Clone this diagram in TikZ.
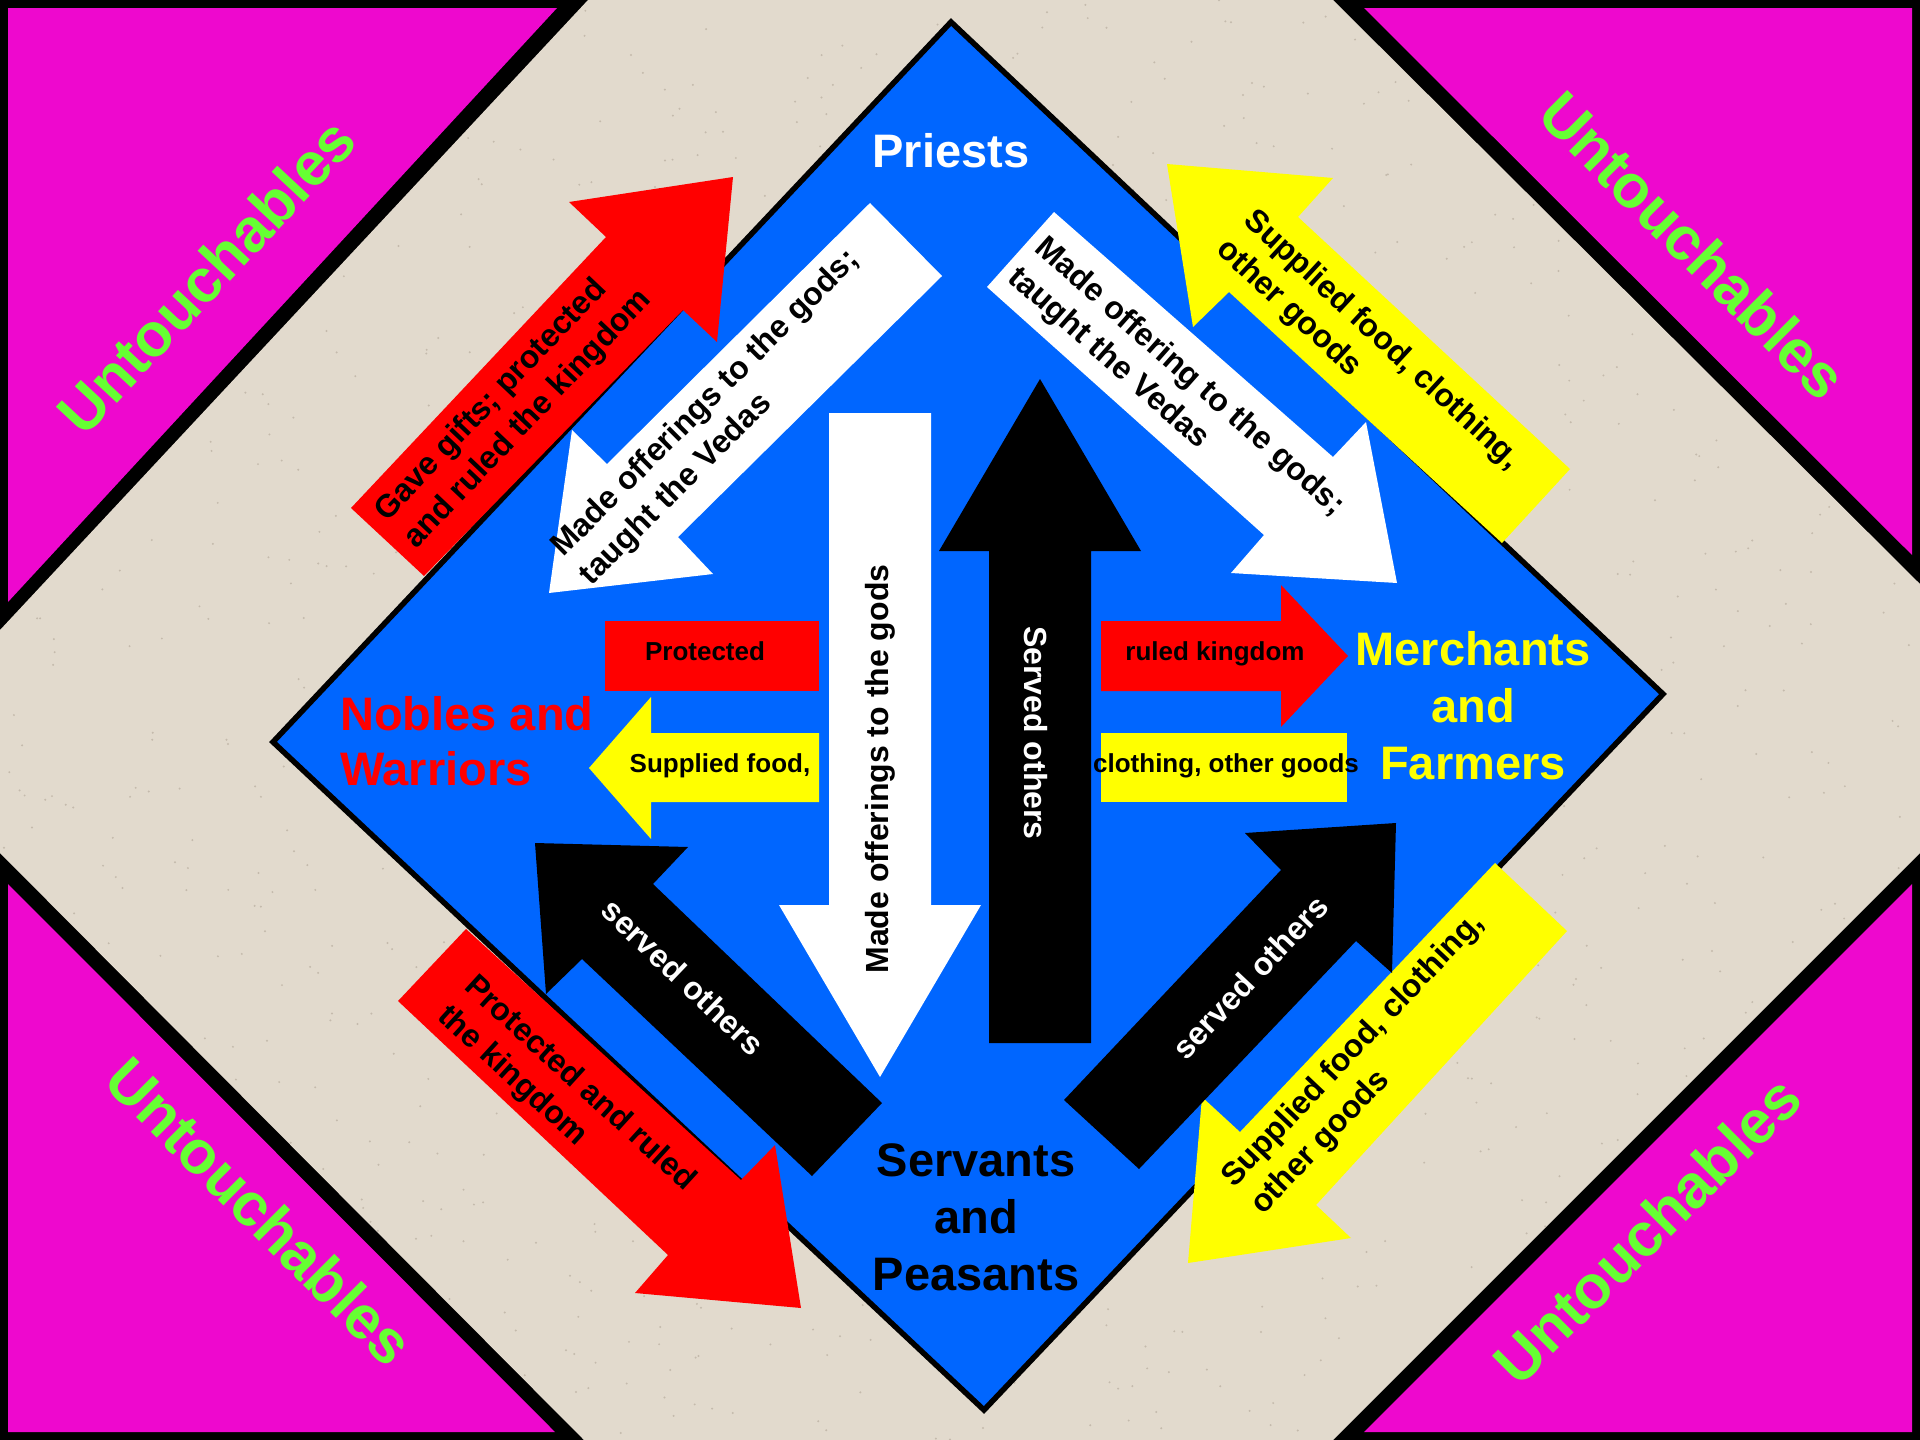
\documentclass[tikz,border=0pt]{standalone}
\usepackage{fontspec}
\setmainfont{Liberation Sans}
\definecolor{beige}{RGB}{226,218,205}
\definecolor{speck}{RGB}{196,186,172}
\definecolor{mag}{RGB}{238,8,206}
\definecolor{ugreen}{RGB}{102,255,51}
\definecolor{dblue}{RGB}{0,102,255}
\definecolor{rr}{RGB}{255,0,0}
\definecolor{yy}{RGB}{255,255,0}
\begin{document}
\begin{tikzpicture}[x=1pt,y=-1pt,
  lbl/.style={font=\bfseries\fontsize{32}{40}\selectfont, inner sep=0pt, align=left},
  vlbl/.style={font=\bfseries\fontsize{32}{40}\selectfont, inner sep=0pt},
  big/.style={font=\bfseries\fontsize{47}{57}\selectfont, inner sep=0pt, align=center},
  small/.style={font=\bfseries\fontsize{26}{30}\selectfont, inner sep=0pt},
  untouch/.style={font=\bfseries\fontsize{61}{70}\selectfont, text=ugreen, inner sep=0pt}]
\useasboundingbox (0,0) rectangle (1920,1440);
% background
\fill[black] (0,0) rectangle (1920,1440);
\fill[beige] (588,0) -- (1333,0) -- (1920,584) -- (1920,853) -- (1333,1440) -- (584,1440) -- (0,853) -- (0,630) -- cycle;
\begin{scope}
\clip (588,0) -- (1333,0) -- (1920,584) -- (1920,853) -- (1333,1440) -- (584,1440) -- (0,853) -- (0,630) -- cycle;
\pgfmathsetseed{7}
\foreach \i in {1,...,1400} {
  \pgfmathsetmacro\px{rnd*1920}
  \pgfmathsetmacro\py{rnd*1440}
  \fill[speck] (\px,\py) circle (1.1);
}
\end{scope}
% magenta corners
\fill[mag] (8,8) -- (557,8) -- (8,602) -- cycle;
\fill[mag] (1364,8) -- (1912,8) -- (1912,555) -- cycle;
\fill[mag] (8,884) -- (555,1432) -- (8,1432) -- cycle;
\fill[mag] (1364,1432) -- (1912,884) -- (1912,1432) -- cycle;
\node[untouch, rotate=47] (u1) at (206,276) {Untouchables};
\node[untouch, rotate=-45] (u2) at (1693,245) {Untouchables};
\node[untouch, rotate=-45] (u3) at (260,1211) {Untouchables};
\node[untouch, rotate=45] (u4) at (1647,1230) {Untouchables};
% blue diamond
\filldraw[fill=dblue, draw=black, line width=5.5pt, line join=miter] (951,22) -- (1663,694) -- (984,1410) -- (273,742) -- cycle;
% outer arrows
\fill[rr] (351,508) -- (606,237) -- (569,202) -- (733,177) -- (717,342) -- (683,310) -- (424,576) -- cycle;
\fill[yy] (1167,164) -- (1333,178) -- (1298,217) -- (1570,469) -- (1502,543) -- (1229,292) -- (1193,327) -- cycle;
\fill[rr] (466,929) -- (741,1180) -- (775,1145) -- (801,1308) -- (635,1293) -- (668,1255) -- (398,1001) -- cycle;
\fill[yy] (1495,863) -- (1567,931) -- (1316,1205) -- (1351,1238) -- (1188,1263) -- (1202,1097) -- (1240,1132) -- cycle;
% inner diagonal arrows
\fill[white] (870,203) -- (942,276) -- (678,537) -- (713,574) -- (549,593) -- (572,430) -- (607,464) -- cycle;
\fill[white] (1054,212) -- (1333,457) -- (1366,422) -- (1397,583) -- (1231,573) -- (1264,535) -- (987,287) -- cycle;
\fill[black] (535,843) -- (688,847) -- (653,884) -- (882,1103) -- (812,1176) -- (582,959) -- (546,994) -- cycle;
\fill[black] (1064,1100) -- (1281,870) -- (1245,833) -- (1396,823) -- (1392,973) -- (1356,941) -- (1139,1169) -- cycle;
% vertical arrows
\fill[white] (829,413) -- (931,413) -- (931,905) -- (981,905) -- (880,1077) -- (779,905) -- (829,905) -- cycle;
\fill[black] (1040,379) -- (1141,551) -- (1091,551) -- (1091,1043) -- (989,1043) -- (989,551) -- (939,551) -- cycle;
% horizontal shapes
\fill[rr] (605,621) rectangle (819,691);
\fill[yy] (819,733) -- (819,802) -- (651,802) -- (651,839) -- (589,768) -- (651,697) -- (651,733) -- cycle;
\fill[rr] (1101,621) -- (1281,621) -- (1281,585) -- (1348,656) -- (1281,727) -- (1281,691) -- (1101,691) -- cycle;
\fill[yy] (1101,733) rectangle (1347,802);
% big labels
\node[big, text=white, anchor=base] (priests) at (951,167) {Priests};
\node[big, text=rr, anchor=north west, align=left, font=\bfseries\fontsize{47}{55}\selectfont] (nobles) at (340,696) {Nobles and\\Warriors};
\node[big, text=yy, anchor=north] (merch) at (1473,631) {Merchants\\and\\Farmers};
\node[big, text=black, anchor=north] (serv) at (976,1143) {Servants\\and\\Peasants};
% arrow labels
\node[lbl, rotate=46.5] (t1) at (514,406) {Gave gifts; protected\\and ruled the kingdom};
\node[lbl, rotate=-42.8] (t2) at (1368,355) {Supplied food, clothing,\\other goods};
\node[lbl, rotate=45] (t3) at (720,418) {Made offerings to the gods;\\taught the Vedas};
\node[lbl, rotate=-41.5] (t4) at (1176,392) {Made offering to the gods;\\taught the Vedas};
\node[lbl, rotate=-42.4] (t5) at (566,1099) {Protected and ruled\\the kingdom};
\node[lbl, rotate=46.5] (t6) at (1368,1064) {Supplied food, clothing,\\other goods};
\node[vlbl, text=white, rotate=-43.7] (t7) at (683,977) {served others};
\node[vlbl, text=white, rotate=46.7] (t8) at (1250,977) {served others};
\node[vlbl, rotate=90] (t9) at (880,769) {Made offerings to the gods};
\node[vlbl, text=white, rotate=-90] (t10) at (1036,733) {Served others};
\node[small, anchor=base] (t11) at (705,660) {Protected};
\node[small, anchor=base] (t12) at (720,772) {Supplied food,};
\node[small, anchor=base] (t13) at (1215,660) {ruled kingdom};
\node[small, anchor=base] (t14) at (1226,772) {clothing, other goods};
\end{tikzpicture}
\end{document}
